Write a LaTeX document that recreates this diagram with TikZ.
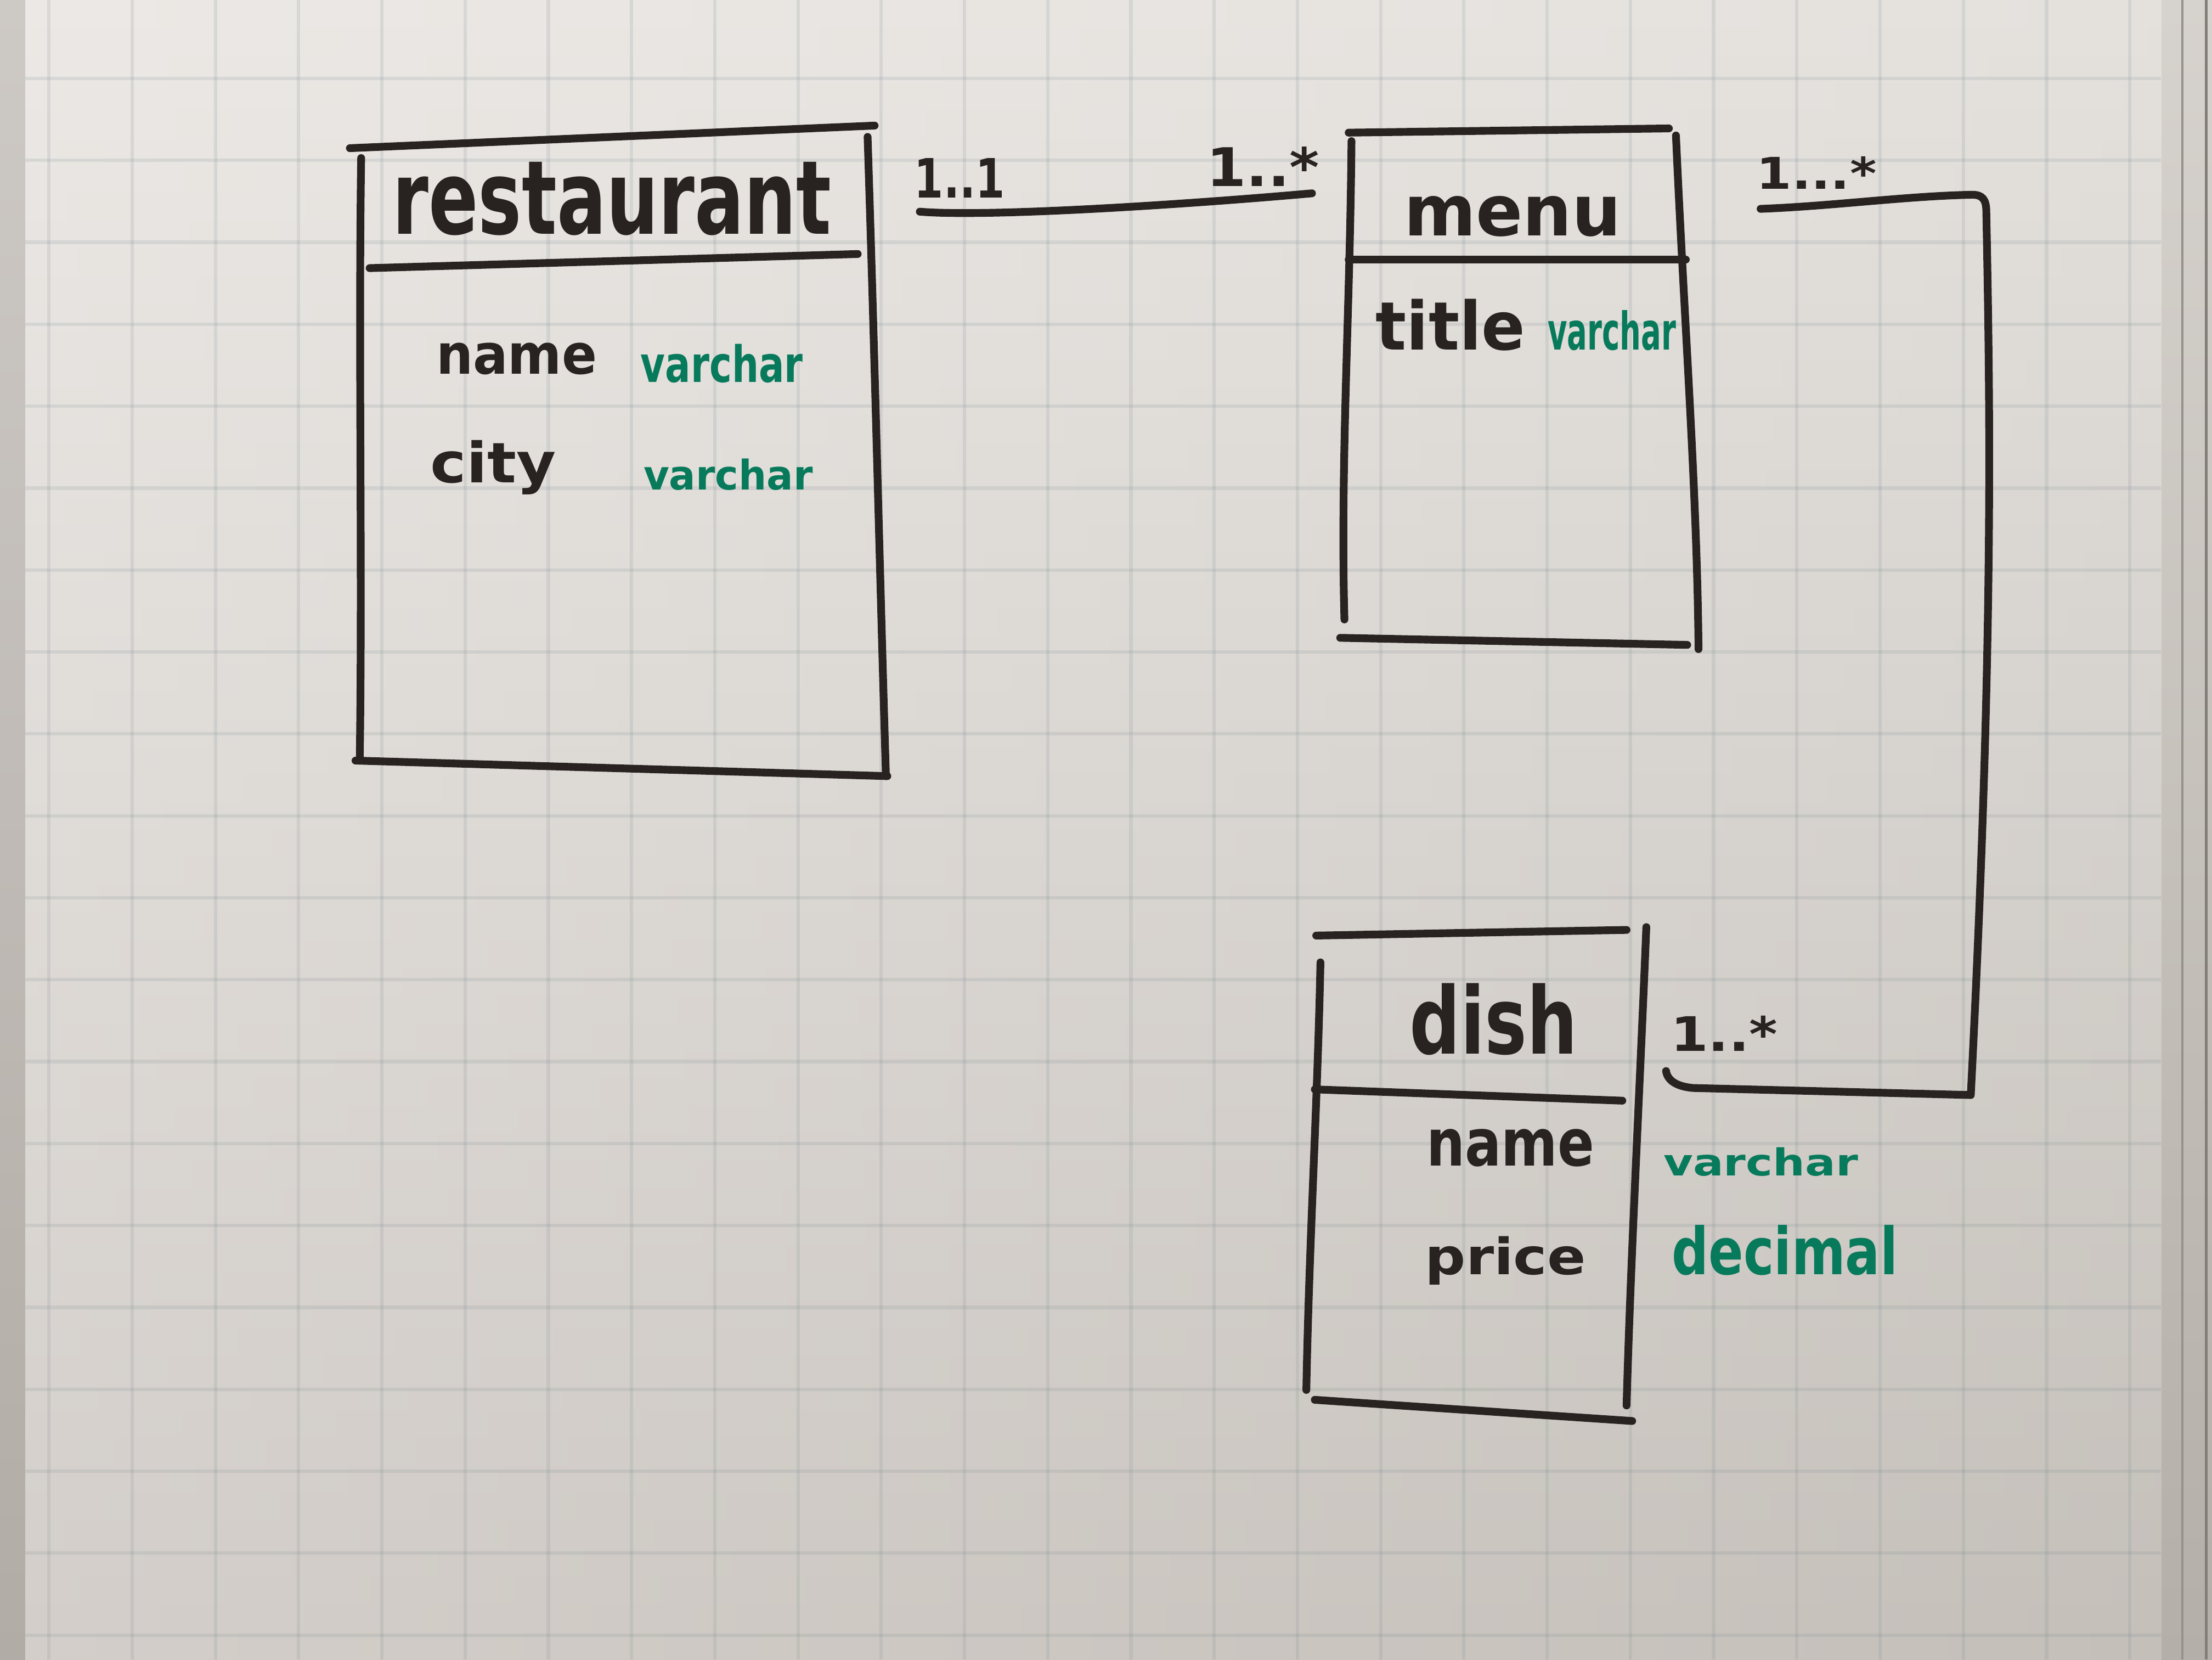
\documentclass[tikz,border=0pt]{standalone}
\usepackage{fontspec}
\setmainfont{DejaVu Sans}
\usepackage{graphicx}
\definecolor{marker}{RGB}{40,35,33}
\definecolor{typegreen}{RGB}{8,122,92}
\definecolor{gridblue}{RGB}{120,140,145}
% scale a word to a given width and height (in pt) above the baseline
\newcommand\handword[3]{\resizebox{#1pt}{#2pt}{#3}}
\begin{document}
\begin{tikzpicture}[x=1pt,y=-1pt,
  ink/.style={draw=marker, line width=5.5pt, line cap=round, line join=round},
  word/.style={inner sep=0pt, anchor=base west, text=marker, font=\bfseries},
  title/.style={inner sep=0pt, anchor=base west, text=marker, font=\bfseries},
  typeword/.style={inner sep=0pt, anchor=base west, text=typegreen, font=\bfseries},
  gridline/.style={draw=gridblue, draw opacity=0.16, line width=2.4pt},
]
\useasboundingbox (0,0) rectangle (1568,1176);

% table surface left and right of the sheet
\shade[top color={rgb,255:red,205;green,201;blue,197}, bottom color={rgb,255:red,178;green,172;blue,166}] (0,0) rectangle (18,1176);
\shade[top color={rgb,255:red,214;green,210;blue,205}, bottom color={rgb,255:red,180;green,175;blue,168}] (1530,0) rectangle (1568,1176);
\draw[draw={rgb,255:red,150;green,145;blue,139}, line width=1.5pt] (1547,0) -- (1547,1176);
\draw[draw={rgb,255:red,130;green,125;blue,119}, line width=2pt] (1564,0) -- (1564,1176);

% the sheet, darkening slightly towards the bottom right
\foreach \i in {0,...,59} {
  \pgfmathsetmacro{\t}{\i/59}
  \pgfmathsetmacro{\ya}{\i*19.6}
  \pgfmathsetmacro{\yb}{\ya+20.8}
  \pgfmathsetmacro{\lr}{(235-24*\t)/255}
  \pgfmathsetmacro{\lg}{(232-26*\t)/255}
  \pgfmathsetmacro{\lb}{(229-28*\t)/255}
  \pgfmathsetmacro{\rr}{(228-32*\t)/255}
  \pgfmathsetmacro{\rg}{(225-34*\t)/255}
  \pgfmathsetmacro{\rb}{(221-36*\t)/255}
  \definecolor{stripL}{rgb}{\lr,\lg,\lb}
  \definecolor{stripR}{rgb}{\rr,\rg,\rb}
  \shade[left color=stripL, right color=stripR] (18,\ya) rectangle (1532,\yb);
}

% squared ruling
\foreach \k in {-1,...,24} \draw[gridline] ({93.7+59.0*\k},0) -- ({93.7+59.0*\k},1176);
\foreach \k in {0,...,19} \draw[gridline] (18,{55.6+58.06*\k}) -- (1532,{55.6+58.06*\k});

% ---------- restaurant ----------
\coordinate (rTL) at (248,105);
\coordinate (rTR) at (620,89);
\coordinate (rBL) at (252,539);
\coordinate (rBR) at (629,550);
\draw[ink] (rTL) -- (rTR);
\draw[ink] (256,112) .. controls (254,250) and (257,400) .. (255,539);
\draw[ink] (615,97) .. controls (620,250) and (624,420) .. (628,550);
\draw[ink] (262,190) -- (608,180);
\draw[ink] (rBL) -- (rBR);
\node[title] (restTitle) at (278,166) {\handword{311}{51}{restaurant}};
\node[word] (restName) at (309,265) {\handword{114}{22}{name}};
\node[typeword] (restNameType) at (454,271) {\handword{115}{27}{varchar}};
\node[word] (restCity) at (305,342) {\handword{89}{30}{city}};
\node[typeword] (restCityType) at (456,347) {\handword{120}{22}{varchar}};

% ---------- menu ----------
\coordinate (mTL) at (956,94);
\coordinate (mTR) at (1183,91);
\coordinate (mBL) at (950,452);
\coordinate (mBR) at (1196,457);
\draw[ink] (mTL) -- (mTR);
\draw[ink] (958,100) .. controls (957,220) and (950,330) .. (953,439);
\draw[ink] (1188,96) .. controls (1194,230) and (1203,350) .. (1204,460);
\draw[ink] (956,184) -- (1195,184);
\draw[ink] (mBL) -- (mBR);
\node[title] (menuTitle) at (995,167) {\handword{154}{28}{menu}};
\node[word] (menuTitleAttr) at (975,248) {\handword{106}{36}{title}};
\node[typeword] (menuTitleType) at (1097,248) {\handword{91}{28}{varchar}};

% ---------- dish ----------
\coordinate (dTL) at (933,663);
\coordinate (dTR) at (1153,659);
\coordinate (dBL) at (932,992);
\coordinate (dBR) at (1157,1007);
\draw[ink] (dTL) -- (dTR);
\draw[ink] (936,682) .. controls (934,780) and (928,880) .. (926,985);
\draw[ink] (1167,657) .. controls (1162,780) and (1156,890) .. (1153,996);
\draw[ink] (932,772) -- (1150,780);
\draw[ink] (dBL) -- (dBR);
\node[title] (dishTitle) at (999,747) {\handword{119}{50}{dish}};
\node[word] (dishName) at (1011,826) {\handword{119}{26}{name}};
\node[word] (dishPrice) at (1010,903) {\handword{114}{27}{price}};
\node[typeword] (dishNameType) at (1179,833) {\handword{138}{20}{varchar}};
\node[typeword] (dishPriceType) at (1185,903) {\handword{160}{35}{decimal}};

% ---------- restaurant -- menu ----------
\coordinate (rmStart) at (652,150);
\coordinate (rmEnd) at (930,137);
\draw[ink] (rmStart) .. controls (700,154) and (840,145) .. (rmEnd);
\node[word] (rmCardA) at (648,140) {\handword{64}{28}{1..1}};
\node[word] (rmCardB) at (855,132) {\handword{80}{28}{1..*}};

% ---------- menu -- dish ----------
\coordinate (mdStart) at (1248,148);
\coordinate (mdCorner) at (1408,150);
\coordinate (mdFoot) at (1397,776);
\coordinate (mdEnd) at (1181,759);
\draw[ink] (mdStart) .. controls (1300,146) and (1350,139) .. (1398,138)
  .. controls (1405,138) and (1408,141) .. (mdCorner)
  .. controls (1411,300) and (1413,460) .. (mdFoot)
  -- (1200,771) .. controls (1189,770) and (1182,766) .. (mdEnd);
\node[word] (mdCardA) at (1245,134) {\handword{85}{23}{1...*}};
\node[word] (mdCardB) at (1184,745) {\handword{76}{25}{1..*}};
\end{tikzpicture}
\end{document}
